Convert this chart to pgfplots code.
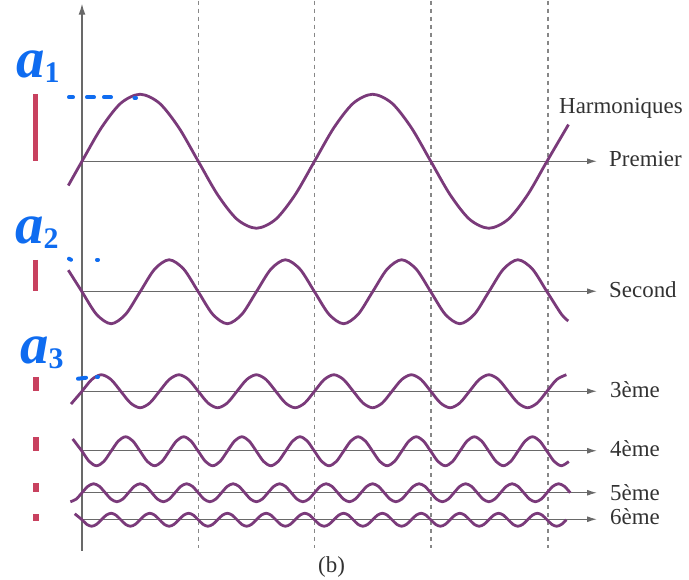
\documentclass[border=0pt]{standalone}
\usepackage{pgfplots}
\pgfplotsset{compat=1.18}
\usepackage{fontspec}
\setmainfont{Liberation Serif}
\usetikzlibrary{arrows.meta}
\definecolor{wavecol}{RGB}{122,58,122}
\definecolor{axisgray}{RGB}{105,105,105}
\definecolor{dashgray}{RGB}{135,135,135}
\definecolor{barred}{RGB}{200,65,95}
\definecolor{annblue}{RGB}{15,108,240}
\definecolor{txtgray}{RGB}{50,50,50}
\newcommand{\sub}[1]{\raisebox{-5bp}{\fontsize{30}{30}\selectfont\upshape\bfseries #1}}
\tikzset{lab/.style={anchor=base west, inner sep=0pt, text=txtgray, font=\fontsize{23}{27}\selectfont},
  annlab/.style={anchor=base west, inner sep=0pt, text=annblue, font=\fontsize{57}{60}\selectfont\bfseries\itshape}}
\pgfplotsset{wave/.style={color=wavecol, line width=2.8bp, no markers, smooth},
  bar/.style={color=barred, line width=5.8bp, no markers},
  ann/.style={color=annblue, line width=4bp, line cap=round, no markers}}
\begin{document}
\begin{tikzpicture}
\begin{axis}[at={(0,0)}, anchor=south west, width=689bp, height=579bp, scale only axis,
  xmin=0, xmax=689, ymin=0, ymax=579, y dir=reverse, hide axis, clip=false]
\path (axis cs:0,0) (axis cs:689,579);
% dashed verticals
\draw[dashgray, line width=1.5bp, dash pattern=on 4bp off 4bp] (axis cs:198.3,0) -- (axis cs:198.3,547);
\draw[dashgray, line width=1.5bp, dash pattern=on 4bp off 4bp] (axis cs:314.5,0) -- (axis cs:314.5,547);
\draw[dashgray, line width=1.5bp, dash pattern=on 4bp off 4bp] (axis cs:430.75,0) -- (axis cs:430.75,547);
\draw[dashgray, line width=1.5bp, dash pattern=on 4bp off 4bp] (axis cs:548,0) -- (axis cs:548,547);
% vertical axis
\draw[axisgray, line width=1.3bp, -{Latex[length=11bp,width=7bp]}] (axis cs:82,550) -- (axis cs:82,3);
% baselines
\draw[axisgray, line width=1.2bp, -{Latex[length=10bp,width=6bp]}] (axis cs:82,160.5) -- (axis cs:597,160.5);
\draw[axisgray, line width=1.2bp, -{Latex[length=10bp,width=6bp]}] (axis cs:82,290.5) -- (axis cs:597,290.5);
\draw[axisgray, line width=1.2bp, -{Latex[length=10bp,width=6bp]}] (axis cs:82,390.5) -- (axis cs:597,390.5);
\draw[axisgray, line width=1.2bp, -{Latex[length=10bp,width=6bp]}] (axis cs:82,450) -- (axis cs:597,450);
\draw[axisgray, line width=1.2bp, -{Latex[length=10bp,width=6bp]}] (axis cs:82,492) -- (axis cs:597,492);
\draw[axisgray, line width=1.2bp, -{Latex[length=10bp,width=6bp]}] (axis cs:82,518.5) -- (axis cs:597,518.5);
% harmonic 1
\addplot[wave] coordinates {(68.3,184.8) (82,160.5) (101.38,127) (120.75,102.5) (140.13,93.5) (159.5,102.5) (178.88,127) (198.25,160.5) (217.63,194) (237,218.5) (256.38,227.5) (275.75,218.5) (295.13,194) (314.5,160.5) (333.88,127) (353.25,102.5) (372.63,93.5) (392,102.5) (411.38,127) (430.75,160.5) (450.13,194) (469.5,218.5) (488.88,227.5) (508.25,218.5) (527.63,194) (547,160.5) (568.5,123.8)};
% harmonic 2
\addplot[wave] coordinates {(68.3,269.4) (82,291) (96.53,313.6) (111.06,323) (125.59,313.6) (140.13,291) (154.66,268.4) (169.19,259) (183.72,268.4) (198.25,291) (212.78,313.6) (227.31,323) (241.84,313.6) (256.38,291) (270.91,268.4) (285.44,259) (299.97,268.4) (314.5,291) (329.03,313.6) (343.56,323) (358.09,313.6) (372.63,291) (387.16,268.4) (401.69,259) (416.22,268.4) (430.75,291) (445.28,313.6) (459.81,323) (474.34,313.6) (488.88,291) (503.41,268.4) (517.94,259) (532.47,268.4) (547,291) (561.53,313.6) (568.3,320.2)};
% harmonic 3
\addplot[wave] coordinates {(71,403.3)
(82,390.5) (91.69,378.8) (101.38,374) (111.06,378.8) (120.75,390.5) (130.44,402.2) (140.13,407) (149.81,402.2)
(159.5,390.5) (169.19,378.8) (178.88,374) (188.56,378.8) (198.25,390.5) (207.94,402.2) (217.63,407) (227.31,402.2)
(237,390.5) (246.69,378.8) (256.38,374) (266.06,378.8) (275.75,390.5) (285.44,402.2) (295.13,407) (304.81,402.2)
(314.5,390.5) (324.19,378.8) (333.88,374) (343.56,378.8) (353.25,390.5) (362.94,402.2) (372.63,407) (382.31,402.2)
(392,390.5) (401.69,378.8) (411.38,374) (421.06,378.8) (430.75,390.5) (440.44,402.2) (450.13,407) (459.81,402.2)
(469.5,390.5) (479.19,378.8) (488.88,374) (498.56,378.8) (508.25,390.5) (517.94,402.2) (527.63,407) (537.31,402.2)
(547,390.5) (556.69,378.8) (566.38,374)};
% harmonic 4
\addplot[wave] coordinates {(72.7,438.2)
(82,450.5) (89.27,460.75) (96.53,465) (103.80,460.75) (111.06,450.5) (118.33,440.25) (125.59,436) (132.86,440.25)
(140.13,450.5) (147.39,460.75) (154.66,465) (161.92,460.75) (169.19,450.5) (176.45,440.25) (183.72,436) (190.98,440.25)
(198.25,450.5) (205.52,460.75) (212.78,465) (220.05,460.75) (227.31,450.5) (234.58,440.25) (241.84,436) (249.11,440.25)
(256.38,450.5) (263.64,460.75) (270.91,465) (278.17,460.75) (285.44,450.5) (292.70,440.25) (299.97,436) (307.23,440.25)
(314.50,450.5) (321.77,460.75) (329.03,465) (336.30,460.75) (343.56,450.5) (350.83,440.25) (358.09,436) (365.36,440.25)
(372.63,450.5) (379.89,460.75) (387.16,465) (394.42,460.75) (401.69,450.5) (408.95,440.25) (416.22,436) (423.48,440.25)
(430.75,450.5) (438.02,460.75) (445.28,465) (452.55,460.75) (459.81,450.5) (467.08,440.25) (474.34,436) (481.61,440.25)
(488.88,450.5) (496.14,460.75) (503.41,465) (510.67,460.75) (517.94,450.5) (525.20,440.25) (532.47,436) (539.73,440.25)
(547.00,450.5) (554.27,460.75) (561.53,465) (568.80,460.75)};
% harmonic 5
\addplot[wave] coordinates {(70.38,501) (76.19,498.36)
(82,492) (87.81,485.64) (93.63,483) (99.44,485.64) (105.25,492) (111.06,498.36) (116.88,501) (122.69,498.36)
(128.5,492) (134.31,485.64) (140.13,483) (145.94,485.64) (151.75,492) (157.56,498.36) (163.38,501) (169.19,498.36)
(175,492) (180.81,485.64) (186.63,483) (192.44,485.64) (198.25,492) (204.06,498.36) (209.88,501) (215.69,498.36)
(221.5,492) (227.31,485.64) (233.13,483) (238.94,485.64) (244.75,492) (250.56,498.36) (256.38,501) (262.19,498.36)
(268,492) (273.81,485.64) (279.63,483) (285.44,485.64) (291.25,492) (297.06,498.36) (302.88,501) (308.69,498.36)
(314.5,492) (320.31,485.64) (326.13,483) (331.94,485.64) (337.75,492) (343.56,498.36) (349.38,501) (355.19,498.36)
(361,492) (366.81,485.64) (372.63,483) (378.44,485.64) (384.25,492) (390.06,498.36) (395.88,501) (401.69,498.36)
(407.5,492) (413.31,485.64) (419.13,483) (424.94,485.64) (430.75,492) (436.56,498.36) (442.38,501) (448.19,498.36)
(454,492) (459.81,485.64) (465.63,483) (471.44,485.64) (477.25,492) (483.06,498.36) (488.88,501) (494.69,498.36)
(500.5,492) (506.31,485.64) (512.13,483) (517.94,485.64) (523.75,492) (529.56,498.36) (535.38,501) (541.19,498.36)
(547,492) (552.81,485.64) (558.63,483) (564.44,485.64) (570.25,492)};
% harmonic 6
\addplot[wave] coordinates {(74.7,513)
(82,519) (86.84,523.6) (91.69,525.5) (96.53,523.6) (101.38,519) (106.22,514.4) (111.06,512.5) (115.91,514.4)
(120.75,519) (125.59,523.6) (130.44,525.5) (135.28,523.6) (140.13,519) (144.97,514.4) (149.81,512.5) (154.66,514.4)
(159.5,519) (164.34,523.6) (169.19,525.5) (174.03,523.6) (178.88,519) (183.72,514.4) (188.56,512.5) (193.41,514.4)
(198.25,519) (203.09,523.6) (207.94,525.5) (212.78,523.6) (217.63,519) (222.47,514.4) (227.31,512.5) (232.16,514.4)
(237,519) (241.84,523.6) (246.69,525.5) (251.53,523.6) (256.38,519) (261.22,514.4) (266.06,512.5) (270.91,514.4)
(275.75,519) (280.59,523.6) (285.44,525.5) (290.28,523.6) (295.13,519) (299.97,514.4) (304.81,512.5) (309.66,514.4)
(314.5,519) (319.34,523.6) (324.19,525.5) (329.03,523.6) (333.88,519) (338.72,514.4) (343.56,512.5) (348.41,514.4)
(353.25,519) (358.09,523.6) (362.94,525.5) (367.78,523.6) (372.63,519) (377.47,514.4) (382.31,512.5) (387.16,514.4)
(392,519) (396.84,523.6) (401.69,525.5) (406.53,523.6) (411.38,519) (416.22,514.4) (421.06,512.5) (425.91,514.4)
(430.75,519) (435.59,523.6) (440.44,525.5) (445.28,523.6) (450.13,519) (454.97,514.4) (459.81,512.5) (464.66,514.4)
(469.5,519) (474.34,523.6) (479.19,525.5) (484.03,523.6) (488.88,519) (493.72,514.4) (498.56,512.5) (503.41,514.4)
(508.25,519) (513.09,523.6) (517.94,525.5) (522.78,523.6) (527.63,519) (532.47,514.4) (537.31,512.5) (542.16,514.4)
(547,519) (551.84,523.6) (556.69,525.5) (561.53,523.6) (566.38,519)};
% amplitude bars
\addplot[bar] coordinates {(35.5,93.5) (35.5,160.5)};
\addplot[bar] coordinates {(35.5,259) (35.5,290)};
\addplot[bar] coordinates {(36,376) (36,390.5)};
\addplot[bar] coordinates {(36,436.7) (36,450)};
\addplot[bar] coordinates {(36,482.7) (36,491.7)};
\addplot[bar] coordinates {(36,513.3) (36,520)};
% blue annotations
\addplot[ann] coordinates {(69,96.5) (73,96.5)};
\addplot[ann] coordinates {(87,96.5) (94,96.5)};
\addplot[ann] coordinates {(104,96.5) (111,96.5)};
\addplot[ann] coordinates {(134.5,97) (136,97)};
\addplot[ann] coordinates {(69,258) (71,259)};
\addplot[ann] coordinates {(97,259) (98,259)};
\addplot[ann] coordinates {(78,378) (86,377)};
\addplot[ann] coordinates {(97,376) (98,376)};
\node[annlab] at (axis cs:16,77) {a\sub{1}};
\node[annlab] at (axis cs:15,243) {a\sub{2}};
\node[annlab] at (axis cs:20,363) {a\sub{3}};
% labels
\node[lab] at (axis cs:559,113) {Harmoniques};
\node[lab] at (axis cs:609,166) {Premier};
\node[lab] at (axis cs:609,296.7) {Second};
\node[lab] at (axis cs:610,396.7) {3ème};
\node[lab] at (axis cs:610,456) {4ème};
\node[lab] at (axis cs:610,499.3) {5ème};
\node[lab] at (axis cs:610,524) {6ème};
\node[lab] at (axis cs:318,571.5) {(b)};
\end{axis}
\end{tikzpicture}
\end{document}
